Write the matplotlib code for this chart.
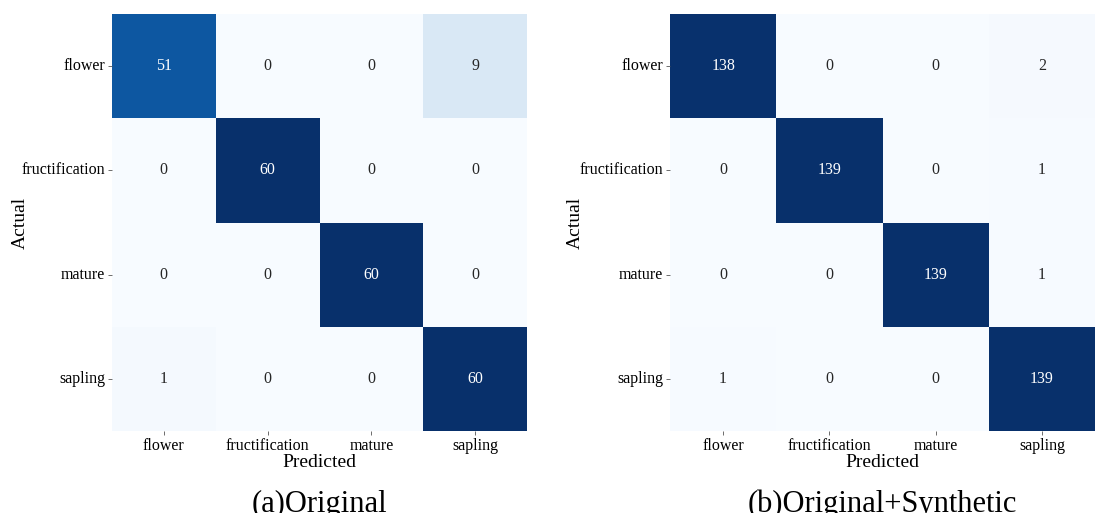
import matplotlib
matplotlib.use("Agg")
import matplotlib.pyplot as plt
import numpy as np
import seaborn as sns

plt.rcParams['font.family'] = ['Liberation Serif', 'DejaVu Serif']

classes = ["flower", "fructification", "mature", "sapling"]

cm_original = np.array([
    [51, 0, 0, 9],
    [0, 60, 0, 0],
    [0, 0, 60, 0],
    [1, 0, 0, 60],
])

cm_synthetic = np.array([
    [138, 0, 0, 2],
    [0, 139, 0, 1],
    [0, 0, 139, 1],
    [1, 0, 0, 139],
])

W, H = 1105, 513
fig = plt.figure(figsize=(W / 100, H / 100), dpi=100)

panels = [
    (cm_original, "(a)Original", [112, 14, 415, 417], 20),
    (cm_synthetic, "(b)Original+Synthetic", [670, 14, 425, 417], 575),
]

for cm, title, (x0, y0, w, h), ylab_x in panels:
    ax = fig.add_axes([x0 / W, 1 - (y0 + h) / H, w / W, h / H])
    sns.heatmap(cm, annot=True, fmt="d", cmap="Blues", cbar=False,
                xticklabels=classes, yticklabels=classes, ax=ax,
                annot_kws={"fontsize": 11.5})
    ax.tick_params(axis="both", labelsize=11.5, length=3, width=0.6,
                   color="#555555", pad=2)
    ax.set_yticklabels(classes, rotation=0)
    ax.set_xticklabels(classes, rotation=0)
    ax.set_xlabel("Predicted", fontsize=14, labelpad=0)
    ax.set_ylabel("")
    fig.text(ylab_x / W, 1 - (y0 + h / 2) / H, "Actual", rotation=90,
             ha="center", va="center", fontsize=14)
    fig.text((x0 + w / 2) / W, 1 - 512 / H, title, ha="center",
             va="baseline", fontsize=22)

fig.savefig("out.png", dpi=100)
